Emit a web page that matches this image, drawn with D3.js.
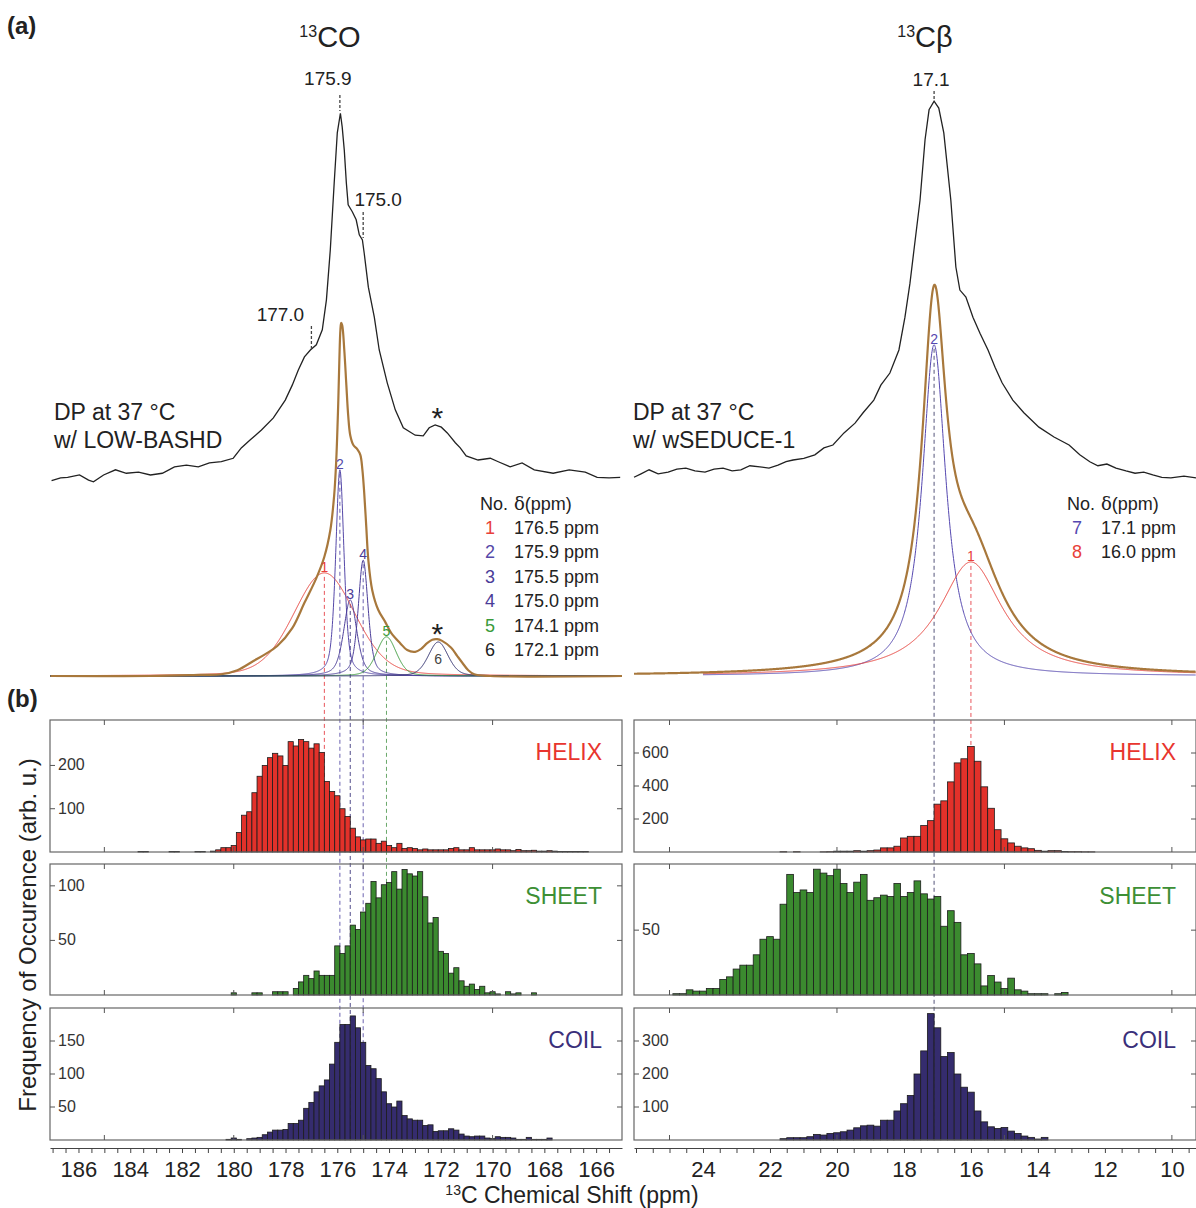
<!DOCTYPE html>
<html>
<head>
<meta charset="utf-8">
<script src="https://cdnjs.cloudflare.com/ajax/libs/d3/7.8.5/d3.min.js"></script>
<style>
body { margin: 0; background: #fff; }
text { font-family: Arial, "Liberation Sans", sans-serif; fill: #222; }
</style>
</head>
<body>
<svg id="chart" width="1196" height="1208"></svg>
<script>
// ---- spectra (ppm, normalised intensity) ----
var coTrace = [[187.04,.339],[186.69,.344],[186.42,.345],[185.96,.349],[185.61,.340],[185.42,.337],[185.03,.349],
  [184.57,.358],[184.15,.352],[183.68,.354],[183.22,.349],[182.76,.352],[182.29,.363],[181.83,.366],[181.37,.363],
  [180.94,.370],[180.48,.372],[180.02,.378],[179.71,.396],[179.36,.410],[178.93,.427],[178.47,.448],[178.01,.479],
  [177.74,.505],[177.51,.531],[177.27,.554],[177.04,.566],[176.81,.575],[176.58,.601],[176.42,.653],[176.27,.740],
  [176.12,.856],[176.00,.943],[175.88,.977],[175.81,.953],[175.73,.913],[175.65,.856],[175.58,.818],[175.42,.806],
  [175.27,.792],[175.15,.766],[175.03,.757],[174.96,.734],[174.80,.675],[174.57,.623],[174.38,.566],[174.07,.509],
  [173.76,.462],[173.45,.431],[172.99,.418],[172.68,.417],[172.45,.431],[172.22,.436],[171.98,.432],[171.75,.422],
  [171.44,.405],[171.25,.396],[171.02,.382],[170.56,.375],[170.09,.378],[169.78,.372],[169.32,.363],[168.86,.370],
  [168.39,.358],[167.66,.352],[167.04,.358],[166.42,.354],[165.96,.345],[165.50,.344],[165.07,.345]];

var coFitSum = [[187.08,0],[183.22,0],[181.29,.002],[180.48,.003],[179.86,.010],[179.24,.026],[178.78,.038],
  [178.32,.052],[177.74,.083],[177.27,.127],[176.81,.170],[176.50,.207],[176.27,.253],[176.12,.314],[176.04,.375],
  [175.96,.479],[175.92,.549],[175.88,.601],[175.85,.613],[175.81,.609],[175.73,.566],[175.65,.505],[175.58,.453],
  [175.50,.418],[175.38,.401],[175.23,.394],[175.11,.384],[175.03,.358],[174.96,.318],[174.88,.259],[174.80,.201],
  [174.65,.149],[174.42,.115],[174.15,.094],[173.92,.075],[173.57,.057],[173.30,.045],[172.99,.042],[172.76,.047],
  [172.53,.057],[172.33,.063],[172.14,.064],[171.95,.061],[171.60,.049],[171.37,.035],[171.17,.023],[170.94,.010],
  [170.71,.003],[170.09,0],[165.0,0]];

var cbTrace = [[26.06,.345],[25.85,.351],[25.61,.358],[25.34,.351],[25.04,.354],[24.78,.359],[24.51,.361],
  [24.24,.356],[23.94,.354],[23.67,.359],[23.40,.361],[23.13,.356],[22.87,.358],[22.60,.365],[22.30,.363],
  [22.03,.361],[21.76,.366],[21.52,.372],[21.31,.375],[20.99,.378],[20.66,.384],[20.39,.396],[20.12,.401],
  [19.79,.422],[19.46,.439],[19.22,.457],[18.90,.479],[18.69,.505],[18.42,.526],[18.15,.566],[17.97,.623],
  [17.82,.682],[17.70,.740],[17.52,.826],[17.37,.931],[17.25,.983],[17.10,.998],[16.96,.986],[16.81,.943],
  [16.60,.826],[16.45,.710],[16.33,.670],[16.15,.658],[15.94,.623],[15.73,.595],[15.49,.566],[15.28,.536],
  [15.07,.509],[14.75,.479],[14.42,.457],[13.97,.432],[13.52,.415],[13.07,.401],[12.75,.384],[12.45,.372],
  [12.21,.365],[11.94,.368],[11.67,.361],[11.37,.356],[11.10,.352],[10.84,.354],[10.57,.349],[10.30,.345],
  [10.03,.344],[9.64,.347],[9.28,.344]];

// fitted components: number, shift, height, fwhm, lorentz fraction
var coPeaks = [
  {no: 1, ppm: 176.5, h: .179, w: 2.8, eta: .2, col: "#e8403a"},
  {no: 2, ppm: 175.9, h: .358, w: .38, eta: .5, col: "#5548a8"},
  {no: 3, ppm: 175.5, h: .132, w: .6, eta: .5, col: "#4a3c98"},
  {no: 4, ppm: 175.0, h: .201, w: .45, eta: .5, col: "#4a3c98"},
  {no: 5, ppm: 174.1, h: .068, w: .9, eta: .3, col: "#3a9a3a"},
  {no: 6, ppm: 172.1, h: .059, w: .9, eta: .3, col: "#2c2c6c"}
];
var cbPeaks = [
  {no: 7, label: "2", ppm: 17.1, h: .575, w: .86, eta: 1, col: "#5548b0"},
  {no: 8, label: "1", ppm: 16.0, h: .198, w: 2.3, eta: 1, col: "#e8403a"}
];

// ---- histograms: 0.2 ppm bins, counts from high to low shift ----
var binW = 0.2;
var coHelixStart = 183.7;
var coHelix = [1,1,0,0,0,0,1,1,0,0,0,1,1,0,
  2,5,10,10,15,45,85,93,137,175,200,218,228,222,200,255,245,260,255,240,250,230,
  163,140,130,100,82,55,35,28,30,30,20,25,15,10,20,8,10,8,5,7,5,5,5,5,8,10,5,5,10,5,5,5,5,7,5,5,3,6,3,3,4,2,2,3,2,1,1,1,1,1,1];
var coSheetStart = 180.1;
var coSheet = [2,0,0,0,2,2,0,0,3,3,3,0,
  6,12,18,15,22,18,18,18,45,38,45,64,60,76,84,104,89,101,103,113,97,115,111,109,113,90,66,71,40,38,20,25,13,8,10,5,8,2,3,1,0,3,1,2,0,0,2];
var coCoilStart = 180.3;
var coCoil = [1,3,1,0,2,3,4,8,12,15,15,16,25,25,30,48,57,73,82,91,115,148,175,175,188,170,148,113,108,93,73,55,50,59,
  37,32,30,30,22,23,13,14,14,17,15,9,6,5,6,6,3,2,5,4,4,3,1,1,4,1,1,1,3];
var cbHelixStart = 21.7;
var cbHelix = [2,0,2,0,0,0,1,2,5,5,5,8,5,8,12,25,25,35,85,95,95,160,190,290,310,425,540,565,640,550,395,265,135,80,55,35,25,20,10,5,8,8,3,2,2,1,1];
var cbSheetStart = 24.9;
var cbSheet = [1,1,4,3,3,5,5,12,14,20,23,23,31,43,45,43,70,93,79,81,79,97,94,92,97,86,79,87,93,73,75,77,76,86,76,79,88,78,74,76,
  53,65,56,31,32,24,7,15,10,5,13,4,3,1,1,1,0,1,2];
var cbCoilStart = 21.7;
var cbCoil = [4,7,7,7,10,17,15,20,22,25,30,37,43,45,42,60,60,88,110,135,200,270,383,340,253,265,200,160,145,88,55,40,35,38,27,20,12,8,3,8];

// ---- layout ----
var svg = d3.select("#chart");
var xCO = d3.scaleLinear().domain([187.1, 165.0]).range([50, 622]);
var xCB = d3.scaleLinear().domain([26.06, 9.28]).range([634, 1196]);
var yS = d3.scaleLinear().domain([0, 1]).range([676, 100]);

var rows = [
  {name: "HELIX", top: 720, bot: 852, col: "#e2312a", txt: "#e8352e"},
  {name: "SHEET", top: 864, bot: 995, col: "#3b8a2f", txt: "#3d8f35"},
  {name: "COIL", top: 1008, bot: 1140, col: "#352c6e", txt: "#3a2f7a"}
];
var panels = [
  {x: xCO, row: 0, start: coHelixStart, vals: coHelix, max: 305, ticks: [100, 200], frameTicks: [185, 180, 175, 170]},
  {x: xCO, row: 1, start: coSheetStart, vals: coSheet, max: 120, ticks: [50, 100], frameTicks: [185, 180, 175, 170]},
  {x: xCO, row: 2, start: coCoilStart, vals: coCoil, max: 200, ticks: [50, 100, 150], frameTicks: [185, 180, 175, 170]},
  {x: xCB, row: 0, start: cbHelixStart, vals: cbHelix, max: 800, ticks: [200, 400, 600], frameTicks: [25, 20, 15, 10]},
  {x: xCB, row: 1, start: cbSheetStart, vals: cbSheet, max: 101, ticks: [50], frameTicks: [25, 20, 15, 10]},
  {x: xCB, row: 2, start: cbCoilStart, vals: cbCoil, max: 400, ticks: [100, 200, 300], frameTicks: [25, 20, 15, 10]}
];

function shape(p, v) {
  var u = (v - p.ppm) / p.w;
  return p.h * (p.eta / (1 + 4 * u * u) + (1 - p.eta) * Math.exp(-4 * Math.LN2 * u * u));
}

// dashed guide lines from fitted peaks down into the histograms
var guides = [
  {x: xCO, p: coPeaks[0], to: 0, col: "#e8545a"},
  {x: xCO, p: coPeaks[1], to: 2, col: "#6b62b0"},
  {x: xCO, p: coPeaks[2], to: 2, col: "#4f4a8a"},
  {x: xCO, p: coPeaks[3], to: 2, col: "#6b62b0"},
  {x: xCO, p: coPeaks[4], to: 1, col: "#6aa86a"},
  {x: xCB, p: cbPeaks[0], to: 2, col: "#55557a"},
  {x: xCB, p: cbPeaks[1], to: 0, col: "#e8545a"}
];
guides.forEach(function(g) {
  svg.append("line")
    .attr("x1", g.x(g.p.ppm)).attr("x2", g.x(g.p.ppm))
    .attr("y1", yS(g.p.h) + 4).attr("y2", rows[g.to].bot)
    .attr("stroke", g.col).attr("stroke-width", 1).attr("stroke-dasharray", "4,3");
});

// histograms
panels.forEach(function(p) {
  var r = rows[p.row];
  var y = d3.scaleLinear().domain([0, p.max]).range([r.bot, r.top]);
  var x0 = p.x.range()[0], x1 = p.x.range()[1];
  var g = svg.append("g");
  g.selectAll("rect.bar").data(p.vals).enter().append("rect")
    .attr("class", "bar")
    .attr("x", function(d, i) { return p.x(p.start - i * binW); })
    .attr("width", function(d, i) { return p.x(p.start - (i + 1) * binW) - p.x(p.start - i * binW); })
    .attr("y", function(d) { return y(d); })
    .attr("height", function(d) { return r.bot - y(d); })
    .attr("fill", r.col).attr("stroke", "#1c1c1c").attr("stroke-width", 0.8)
    .style("display", function(d) { return d > 0 ? null : "none"; });
  g.append("rect").attr("x", x0).attr("y", r.top).attr("width", x1 - x0).attr("height", r.bot - r.top)
    .attr("fill", "none").attr("stroke", "#666").attr("stroke-width", 1.2);
  p.frameTicks.forEach(function(t) {
    g.append("line").attr("x1", p.x(t)).attr("x2", p.x(t)).attr("y1", r.top).attr("y2", r.top + 5).attr("stroke", "#555");
    g.append("line").attr("x1", p.x(t)).attr("x2", p.x(t)).attr("y1", r.bot).attr("y2", r.bot - 5).attr("stroke", "#555");
  });
  p.ticks.forEach(function(t) {
    g.append("line").attr("x1", x0).attr("x2", x0 + 5).attr("y1", y(t)).attr("y2", y(t)).attr("stroke", "#555");
    g.append("line").attr("x1", x1).attr("x2", x1 - 5).attr("y1", y(t)).attr("y2", y(t)).attr("stroke", "#555");
    g.append("text").attr("x", x0 + 8).attr("y", y(t) + 5).attr("font-size", 16).style("fill", "#333").text(t);
  });
  g.append("text").attr("x", x1 - 20).attr("y", r.top + 40).attr("text-anchor", "end")
    .attr("font-size", 23).style("fill", r.txt).text(r.name);
});

// bottom axes
function bottomAxis(x, lo, hi, lab) {
  var ax = d3.axisBottom(x).tickValues(d3.range(lo, hi + 0.01, 0.5)).tickSize(5).tickSizeOuter(0)
    .tickFormat(function(d) { return lab.indexOf(d) >= 0 ? d : ""; });
  var g = svg.append("g").attr("transform", "translate(0,1148)").call(ax);
  g.select(".domain").attr("stroke", "#444");
  g.selectAll(".tick line").attr("stroke", "#444");
  g.selectAll(".tick text").attr("font-size", 22).attr("dy", "0.95em").style("fill", "#222")
    .style("font-family", "Arial, 'Liberation Sans', sans-serif");
}
var coTickLabels = d3.range(166, 186.1, 2);
var cbTickLabels = d3.range(10, 24.1, 2);
bottomAxis(xCO, 165.5, 187, coTickLabels);
bottomAxis(xCB, 9.5, 26, cbTickLabels);

// spectra
var lineCO = d3.line().x(function(d) { return xCO(d[0]); }).y(function(d) { return yS(d[1]); });
var lineCB = d3.line().x(function(d) { return xCB(d[0]); }).y(function(d) { return yS(d[1]); });
var smoothCO = d3.line().x(function(d) { return xCO(d[0]); }).y(function(d) { return yS(d[1]); }).curve(d3.curveCatmullRom.alpha(0.5));

svg.append("path").attr("d", lineCO(coTrace)).attr("fill", "none").attr("stroke", "#222").attr("stroke-width", 1.3);
svg.append("path").attr("d", lineCB(cbTrace)).attr("fill", "none").attr("stroke", "#222").attr("stroke-width", 1.3);

var gridCO = d3.range(187.1, 165.0, -0.01);
var gridCB = d3.range(24.0, 9.28, -0.01);
coPeaks.forEach(function(p) {
  svg.append("path").attr("d", lineCO(gridCO.map(function(v) { return [v, shape(p, v)]; })))
    .attr("fill", "none").attr("stroke", p.col).attr("stroke-width", 1);
});
cbPeaks.forEach(function(p) {
  svg.append("path").attr("d", lineCB(gridCB.map(function(v) { return [v, shape(p, v)]; })))
    .attr("fill", "none").attr("stroke", p.col).attr("stroke-width", 1);
});
svg.append("path").attr("d", smoothCO(coFitSum)).attr("fill", "none").attr("stroke", "#a8783c").attr("stroke-width", 2.2);
var sumCB = d3.range(26.06, 9.28, -0.01).map(function(v) {
  return [v, d3.sum(cbPeaks, function(p) { return shape(p, v); })];
});
svg.append("path").attr("d", lineCB(sumCB)).attr("fill", "none").attr("stroke", "#a8783c").attr("stroke-width", 2.2);

// component numbers
coPeaks.forEach(function(p) {
  var below = p.no === 6;
  svg.append("text").attr("x", xCO(p.ppm)).attr("y", below ? yS(p.h) + 22 : yS(p.h) - 1)
    .attr("text-anchor", "middle").attr("font-size", 14).style("fill", below ? "#444" : p.col).text(p.no);
});
cbPeaks.forEach(function(p) {
  svg.append("text").attr("x", xCB(p.ppm)).attr("y", yS(p.h) - 1)
    .attr("text-anchor", "middle").attr("font-size", 14).style("fill", p.col).text(p.label);
});

// peak markers on the experimental traces
var marks = [
  {x: xCO, ppm: 175.9, label: "175.9", y1: 95, y2: 111, lx: -12, ly: 85},
  {x: xCO, ppm: 175.0, label: "175.0", y1: 212, y2: 238, lx: 15, ly: 206},
  {x: xCO, ppm: 177.0, label: "177.0", y1: 326, y2: 350, lx: -31, ly: 321},
  {x: xCB, ppm: 17.1, label: "17.1", y1: 91, y2: 100, lx: -3, ly: 86}
];
marks.forEach(function(m) {
  svg.append("line").attr("x1", m.x(m.ppm)).attr("x2", m.x(m.ppm)).attr("y1", m.y1).attr("y2", m.y2)
    .attr("stroke", "#444").attr("stroke-width", 1.3).attr("stroke-dasharray", "3,2");
  svg.append("text").attr("x", m.x(m.ppm) + m.lx).attr("y", m.ly).attr("text-anchor", "middle")
    .attr("font-size", 19).text(m.label);
});

// asterisks (spinning sideband)
[428, 644].forEach(function(yy) {
  svg.append("text").attr("x", xCO(172.1) - 1).attr("y", yy).attr("text-anchor", "middle")
    .attr("font-size", 30).text("*");
});

// titles
function title(x, main) {
  var t = svg.append("text").attr("x", x).attr("y", 47).attr("text-anchor", "middle").attr("font-size", 29);
  t.append("tspan").attr("font-size", 16).attr("dy", "-10").text("13");
  t.append("tspan").attr("dy", "10").text(main);
}
title(330, "CO");
title(925, "C\u03b2");

svg.append("text").attr("x", 7).attr("y", 34).attr("font-size", 24).attr("font-weight", "bold").text("(a)");
svg.append("text").attr("x", 7).attr("y", 707).attr("font-size", 24).attr("font-weight", "bold").text("(b)");

[[54, "w/ LOW-BASHD"], [633, "w/ wSEDUCE-1"]].forEach(function(d) {
  svg.append("text").attr("x", d[0]).attr("y", 420).attr("font-size", 23).text("DP at 37 \u00b0C");
  svg.append("text").attr("x", d[0]).attr("y", 448).attr("font-size", 23).text(d[1]);
});

// legends
function legend(x, peaks) {
  svg.append("text").attr("x", x).attr("y", 510).attr("font-size", 18).text("No.");
  svg.append("text").attr("x", x + 34).attr("y", 510).attr("font-size", 18)
    .style("font-family", "'DejaVu Serif', serif").text("\u03b4").append("tspan")
    .style("font-family", "Arial, 'Liberation Sans', sans-serif").text("(ppm)");
  peaks.forEach(function(p, i) {
    var yy = 534 + i * 24.4;
    svg.append("text").attr("x", x + 10).attr("y", yy).attr("text-anchor", "middle").attr("font-size", 18)
      .style("fill", p.no === 6 ? "#222" : p.col).text(p.no);
    svg.append("text").attr("x", x + 34).attr("y", yy).attr("font-size", 18).text(p.ppm.toFixed(1) + " ppm");
  });
}
legend(480, coPeaks);
legend(1067, cbPeaks);

// axis titles
svg.append("text").attr("transform", "translate(36,935) rotate(-90)").attr("text-anchor", "middle")
  .attr("font-size", 24).text("Frequency of Occurence (arb. u.)");
var xt = svg.append("text").attr("x", 572).attr("y", 1203).attr("text-anchor", "middle").attr("font-size", 23);
xt.append("tspan").attr("font-size", 14).attr("dy", "-8").text("13");
xt.append("tspan").attr("dy", "8").text("C Chemical Shift (ppm)");
</script>
</body>
</html>
